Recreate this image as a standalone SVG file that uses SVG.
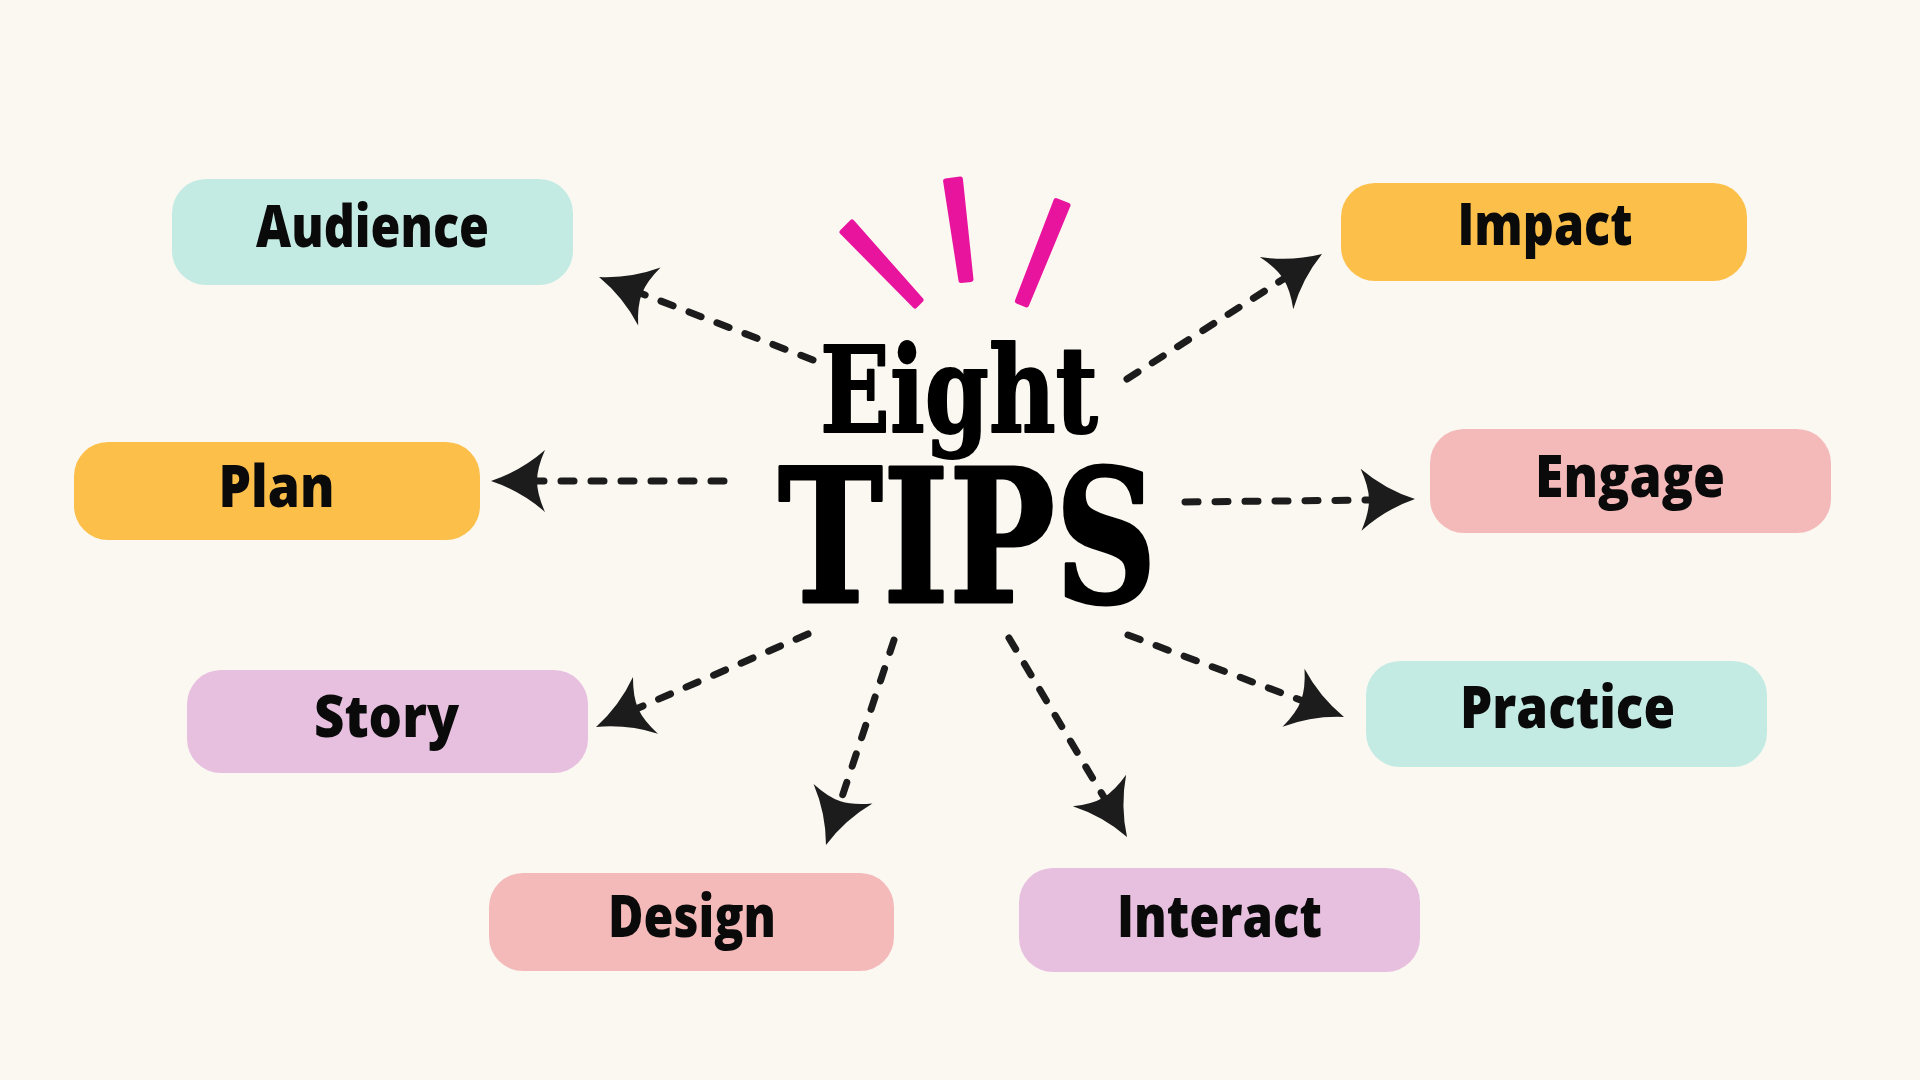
<svg xmlns="http://www.w3.org/2000/svg" width="1920" height="1080" viewBox="0 0 1920 1080">
<style>
.bg{fill:#FBF8F2}
.mint{fill:#C3EBE3}
.orange{fill:#FCC04A}
.pink{fill:#F4BABA}
.lav{fill:#E7C0E0}
.lbl{font-family:"Open Sans","DejaVu Sans",sans-serif;font-weight:800;font-size:58px;fill:#0A0A0A;text-anchor:middle}
.title{font-family:"DejaVu Serif","Liberation Serif",serif;font-weight:700;fill:#000;stroke:#000;stroke-linejoin:round}
.dash{fill:none;stroke:#1C1C1C;stroke-width:7;stroke-linecap:round;stroke-dasharray:13 17}
.head{fill:#1C1C1C}
.brush{fill:#E8149E;stroke:#E8149E;stroke-width:5;stroke-linejoin:round}
</style>
<defs>
<path id="ah" class="head" d="M0,0 Q-30,-10 -54,-31 Q-46,-13 -46,0 Q-46,13 -54,31 Q-30,10 0,0 Z"/>
</defs>
<rect class="bg" x="0" y="0" width="1920" height="1080"/>

<g id="title">
<polygon class="brush" points="852,222 921,300 915,306 842,232"/>
<polygon class="brush" points="945.6,181 960.4,179 971,279.4 961,280.6"/>
<polygon class="brush" points="1056,200.6 1068,205.4 1026.6,304.9 1017.4,301.1"/>
<text class="title"><tspan x="820" y="432" font-size="120" stroke-width="2" textLength="278" lengthAdjust="spacingAndGlyphs">Eight</tspan><tspan x="778" y="602" font-size="185" stroke-width="3" textLength="379" lengthAdjust="spacingAndGlyphs">TIPS</tspan></text>
</g>

<g id="connectors">
<line class="dash" x1="813" y1="360" x2="640" y2="293"/>
<use href="#ah" transform="translate(599,277) rotate(201.15)"/>
<line class="dash" x1="1127" y1="379" x2="1285" y2="278"/>
<use href="#ah" transform="translate(1322,254) rotate(-32.66)"/>
<line class="dash" x1="724" y1="481" x2="535" y2="481"/>
<use href="#ah" transform="translate(491,481) rotate(180)"/>
<line class="dash" x1="1185" y1="502" x2="1371" y2="500"/>
<use href="#ah" transform="translate(1415,499) rotate(-0.75)"/>
<line class="dash" x1="808" y1="634" x2="636" y2="709"/>
<use href="#ah" transform="translate(596,727) rotate(156.3)"/>
<line class="dash" x1="894" y1="640" x2="840" y2="803"/>
<use href="#ah" transform="translate(826,845) rotate(108.35)"/>
<line class="dash" x1="1009" y1="638" x2="1105" y2="799"/>
<use href="#ah" transform="translate(1127,837) rotate(59.33)"/>
<line class="dash" x1="1128" y1="635" x2="1303" y2="701"/>
<use href="#ah" transform="translate(1344,717) rotate(20.79)"/>
</g>

<g id="audience">
<rect class="mint" x="172" y="179" width="401" height="106" rx="34"/>
<text class="lbl" x="372.5" y="247" textLength="233" lengthAdjust="spacingAndGlyphs">Audience</text>
</g>
<g id="impact">
<rect class="orange" x="1341" y="183" width="406" height="98" rx="34"/>
<text class="lbl" x="1545" y="245" textLength="175" lengthAdjust="spacingAndGlyphs">Impact</text>
</g>
<g id="plan">
<rect class="orange" x="74" y="442" width="406" height="98" rx="34"/>
<text class="lbl" x="276.5" y="507" textLength="116" lengthAdjust="spacingAndGlyphs">Plan</text>
</g>
<g id="engage">
<rect class="pink" x="1430" y="429" width="401" height="104" rx="34"/>
<text class="lbl" x="1630" y="497" textLength="190" lengthAdjust="spacingAndGlyphs">Engage</text>
</g>
<g id="story">
<rect class="lav" x="187" y="670" width="401" height="103" rx="34"/>
<text class="lbl" x="386.5" y="737" textLength="145" lengthAdjust="spacingAndGlyphs">Story</text>
</g>
<g id="practice">
<rect class="mint" x="1366" y="661" width="401" height="106" rx="34"/>
<text class="lbl" x="1567.5" y="728" textLength="215" lengthAdjust="spacingAndGlyphs">Practice</text>
</g>
<g id="design">
<rect class="pink" x="489" y="873" width="405" height="98" rx="34"/>
<text class="lbl" x="692" y="937" textLength="168" lengthAdjust="spacingAndGlyphs">Design</text>
</g>
<g id="interact">
<rect class="lav" x="1019" y="868" width="401" height="104" rx="34"/>
<text class="lbl" x="1219.5" y="937" textLength="205" lengthAdjust="spacingAndGlyphs">Interact</text>
</g>
</svg>
